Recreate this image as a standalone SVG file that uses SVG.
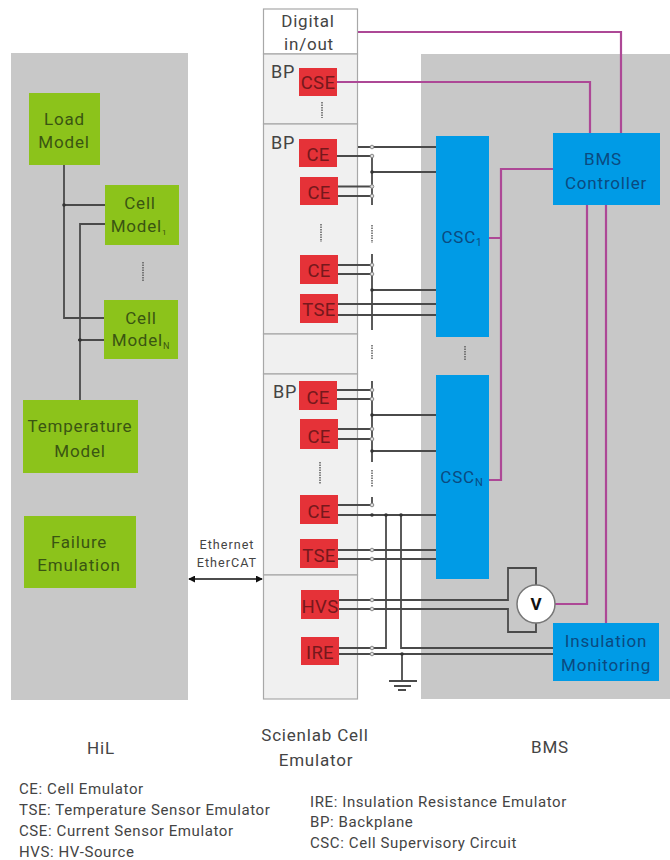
<svg xmlns="http://www.w3.org/2000/svg" width="670" height="860" viewBox="0 0 670 860">
<style>
text{font-family:Roboto,"Liberation Sans",sans-serif;text-anchor:middle;font-size:17px;letter-spacing:.8px}
.panel{fill:#c8c8c8}
.slot{fill:#f0f0f0;stroke:#a8a8a8;stroke-width:1.2}
.g{fill:#8cc31b}.gt{fill:#3a5512}
.r{fill:#e53238}.rt{fill:#76181c;font-size:18.5px;letter-spacing:.3px}
.b{fill:#009be6}.bt{fill:#0b4a80}
.w{fill:none;stroke:#4a4a4a;stroke-width:1.8}
.p{fill:none;stroke:#ad4896;stroke-width:2.2}
.d{fill:none;stroke:#555;stroke-width:1.4;stroke-dasharray:1.5 1}
.o{fill:#ddd;stroke:#888;stroke-width:1}
.k{fill:#333}
.t{fill:#444}
.bp{fill:#444;font-size:18px}
.e{fill:#444;font-size:12.6px;letter-spacing:1px}
.l{text-anchor:start;fill:#444;font-size:15px;letter-spacing:.6px}
.c{fill:#444}
</style>
<defs>
<marker id="ah" viewBox="0 0 8 8" refX="7" refY="4" markerWidth="5" markerHeight="5" orient="auto-start-reverse"><path d="M0 0L8 4L0 8Z" fill="#111"/></marker>
</defs>
<rect class="panel" x="11" y="53" width="177" height="647"/>
<rect class="panel" x="421" y="54" width="249" height="645"/>
<g id="emulator-frame">
<rect x="263.500" y="9" width="94" height="45" fill="#fff" stroke="#a8a8a8" stroke-width="1.200"/>
<rect class="slot" x="263.500" y="54" width="94" height="70"/>
<rect class="slot" x="263.500" y="124" width="94" height="210"/>
<rect class="slot" x="263.500" y="334" width="94" height="40"/>
<rect class="slot" x="263.500" y="374" width="94" height="201"/>
<rect class="slot" x="263.500" y="575" width="94" height="124"/>
<text class="t" x="308" y="27">Digital</text>
<text class="t" x="309" y="50">in/out</text>
<text class="bp" x="283" y="78">BP</text>
<text class="bp" x="283" y="149">BP</text>
<text class="bp" x="285" y="398">BP</text>
</g>
<g id="connectors">
<path class="w" d="M64 165V318H104M63 205H105M80 400V224H105M78 340H104"/>
<path class="w" d="M358 147H436M337 156H372M372 172H436M338 186.500H372M338 196H372M372 156V205"/>
<path class="w" d="M338 265H372M338 274H372M372 254V330M372 290H436M338 304H436M338 315H436"/>
<path class="w" d="M337 390H372M337 399H372M372 381V462M372 415H436M338 429H372M338 439H372M372 451H436"/>
<path class="w" d="M338 505H372M372 497V505M338 515H436M338 550H436M338 559H436"/>
<path class="w" d="M339 600H508V568H536V585M339 609H508V632H536V623"/>
<path class="w" d="M386 515V648H339M401 515V648H553M339 654H553M402 654V681"/>
<path class="w" d="M389 681H417M394 686H411M398 690H406"/>
<path class="d" d="M322 102V118M321 224V242M372 225V243M320 462V484M372 345V360M372 470V487M465 346V361M143 262V282"/>
<path class="p" d="M358 32H621V133M337 82H590V133M553 169H501V480H489M489 238H501M587 205V604H555M606 205V623"/>
<path d="M189 579H262" fill="none" stroke="#111" stroke-width="1.400" marker-start="url(#ah)" marker-end="url(#ah)"/>
<g class="o"><circle cx="372" cy="147" r="1.800"/><circle cx="372" cy="156" r="1.800"/><circle cx="372" cy="186.500" r="1.800"/><circle cx="372" cy="196" r="1.800"/><circle cx="372" cy="265" r="1.800"/><circle cx="372" cy="274" r="1.800"/><circle cx="372" cy="390" r="1.800"/><circle cx="372" cy="399" r="1.800"/><circle cx="372" cy="429" r="1.800"/><circle cx="372" cy="439" r="1.800"/><circle cx="372" cy="505" r="1.800"/><circle cx="372" cy="550" r="1.800"/><circle cx="372" cy="559" r="1.800"/><circle cx="372" cy="600" r="1.800"/><circle cx="372" cy="609" r="1.800"/><circle cx="372" cy="648" r="1.800"/><circle cx="372" cy="654" r="1.800"/></g>
<g class="k"><circle cx="64" cy="205" r="1.800"/><circle cx="80" cy="340" r="1.800"/><circle cx="372" cy="172" r="1.800"/><circle cx="372" cy="290" r="1.800"/><circle cx="372" cy="415" r="1.800"/><circle cx="372" cy="451" r="1.800"/><circle cx="372" cy="515" r="1.800"/><circle cx="386" cy="515" r="1.800"/><circle cx="401" cy="515" r="1.800"/><circle cx="402" cy="654" r="1.800"/></g>
</g>
<g id="load-model"><rect class="g" x="29" y="93" width="71" height="72"/><text class="gt" x="64.500" y="125">Load</text><text class="gt" x="64" y="148">Model</text></g>
<g id="cell-model-1"><rect class="g" x="105" y="185" width="74" height="60"/><text class="gt" x="140" y="209">Cell</text><text class="gt" x="139" y="232">Model<tspan font-size="8" dy="3">1</tspan></text></g>
<g id="cell-model-n"><rect class="g" x="104" y="300" width="74" height="59"/><text class="gt" x="141" y="324">Cell</text><text class="gt" x="141" y="346">Model<tspan font-size="9" dy="3">N</tspan></text></g>
<g id="temperature-model"><rect class="g" x="23" y="400" width="115" height="73"/><text class="gt" x="80" y="432">Temperature</text><text class="gt" x="80" y="457">Model</text></g>
<g id="failure-emulation"><rect class="g" x="24" y="516" width="112" height="72"/><text class="gt" x="79" y="548">Failure</text><text class="gt" x="79" y="571">Emulation</text></g>
<g id="cse"><rect class="r" x="299" y="68" width="38" height="28"/><text class="rt" x="318" y="89">CSE</text></g>
<g id="ce1"><rect class="r" x="299" y="139" width="38" height="28"/><text class="rt" x="318" y="161">CE</text></g>
<g id="ce2"><rect class="r" x="300" y="177" width="38" height="28"/><text class="rt" x="319" y="199">CE</text></g>
<g id="ce3"><rect class="r" x="300" y="255" width="38" height="29"/><text class="rt" x="319" y="277">CE</text></g>
<g id="tse1"><rect class="r" x="300" y="294" width="38" height="29"/><text class="rt" x="319" y="316">TSE</text></g>
<g id="ce4"><rect class="r" x="299" y="381" width="38" height="29"/><text class="rt" x="318" y="404">CE</text></g>
<g id="ce5"><rect class="r" x="300" y="419" width="38" height="30"/><text class="rt" x="319" y="443">CE</text></g>
<g id="ce6"><rect class="r" x="300" y="495" width="38" height="29"/><text class="rt" x="319" y="518">CE</text></g>
<g id="tse2"><rect class="r" x="300" y="539" width="38" height="29"/><text class="rt" x="319" y="562">TSE</text></g>
<g id="hvs"><rect class="r" x="301" y="590" width="38" height="29"/><text class="rt" x="320" y="613">HVS</text></g>
<g id="ire"><rect class="r" x="301" y="637" width="38" height="28"/><text class="rt" x="320" y="659">IRE</text></g>
<g id="csc1"><rect class="b" x="436" y="136" width="53" height="201"/><text class="bt" x="462" y="243">CSC<tspan font-size="10" dy="3">1</tspan></text></g>
<g id="cscn"><rect class="b" x="436" y="375" width="53" height="204"/><text class="bt" x="462" y="483">CSC<tspan font-size="11" dy="3">N</tspan></text></g>
<g id="bms-controller"><rect class="b" x="553" y="133" width="107" height="72"/><text class="bt" x="603" y="165">BMS</text><text class="bt" x="606" y="189">Controller</text></g>
<g id="insulation-monitoring"><rect class="b" x="553" y="623" width="106" height="58"/><text class="bt" x="606" y="647">Insulation</text><text class="bt" x="606" y="671">Monitoring</text></g>
<g id="voltmeter"><circle cx="536" cy="604" r="19" fill="#fff" stroke="#777" stroke-width="1.500"/><text x="536" y="610" font-weight="700" fill="#111" style="letter-spacing:0">V</text></g>
<text class="e" x="227" y="549">Ethernet</text>
<text class="e" x="227" y="567">EtherCAT</text>
<text class="c" x="101" y="754">HiL</text>
<text class="c" x="315" y="741">Scienlab Cell</text>
<text class="c" x="316" y="766">Emulator</text>
<text class="c" x="550" y="753">BMS</text>
<text class="l" x="19" y="794">CE: Cell Emulator</text>
<text class="l" x="19" y="815">TSE: Temperature Sensor Emulator</text>
<text class="l" x="19" y="836">CSE: Current Sensor Emulator</text>
<text class="l" x="19" y="857">HVS: HV-Source</text>
<text class="l" x="310" y="807">IRE: Insulation Resistance Emulator</text>
<text class="l" x="310" y="827">BP: Backplane</text>
<text class="l" x="310" y="848">CSC: Cell Supervisory Circuit</text>
</svg>
